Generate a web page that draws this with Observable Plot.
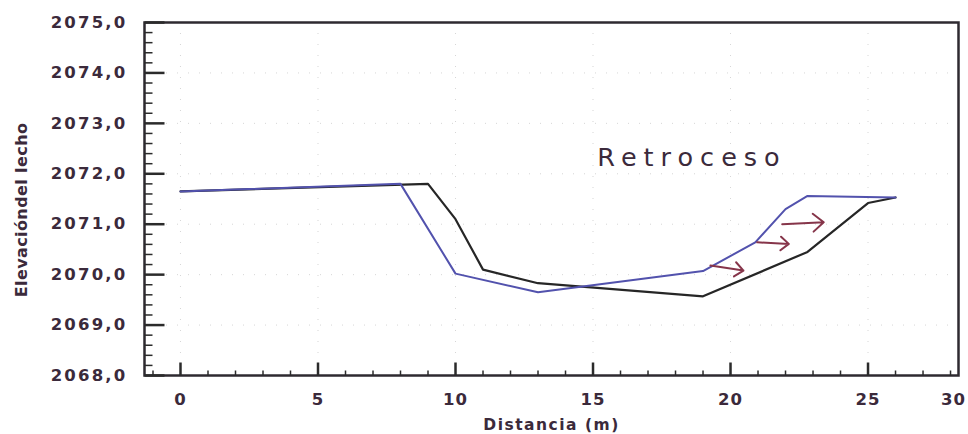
<!DOCTYPE html>
<html>
<head>
<meta charset="utf-8">
<script src="https://cdn.jsdelivr.net/npm/d3@7"></script>
<script src="https://cdn.jsdelivr.net/npm/@observablehq/plot@0.6"></script>
<style>
  body { margin: 0; background: #fff; }
</style>
</head>
<body>
<div id="chart"></div>
<script>
// Perfil inicial (azul) y perfil posterior (negro)
const blueDist  = [0, 8, 10, 13, 19, 20.9, 22, 22.8, 26];
const blueElev  = [2071.65, 2071.8, 2070.02, 2069.65, 2070.07, 2070.64, 2071.3, 2071.56, 2071.53];
const blackDist = [0, 9, 10, 11, 13, 19, 22.8, 25, 26];
const blackElev = [2071.65, 2071.8, 2071.1, 2070.1, 2069.83, 2069.57, 2070.45, 2071.42, 2071.53];

// Flechas de retroceso
const arrowX1 = [19.27, 20.97, 21.88];
const arrowY1 = [2070.18, 2070.64, 2071.0];
const arrowX2 = [20.47, 22.12, 23.39];
const arrowY2 = [2070.08, 2070.61, 2071.04];

const annotation = "Retroceso";
const annotationX = 18.6;
const annotationY = 2072.32;

const xTicks = [0, 5, 10, 15, 20, 25];
const xEdgeLabel = "30";
const yTicks = [2068, 2069, 2070, 2071, 2072, 2073, 2074, 2075];
const xTitle = "Distancia (m)";
const yTitle = "Elevacióndel lecho";

const W = 968, H = 434, mL = 144, mR = 10, mT = 22, mB = 59;
const plotW = W - mL - mR, plotH = H - mT - mB;
const xDomain = [-1.309, 28.29];
const yDomain = [2068, 2075];
const pxPerX = plotW / (xDomain[1] - xDomain[0]);
const pxPerY = plotH / (yDomain[1] - yDomain[0]);

const xMinor = d3.range(-1, 29).filter(d => d % 5 !== 0);
const yMinor = d3.range(1, 35).map(i => 2068 + i * 0.2).filter(d => Math.abs(d - Math.round(d)) > 1e-6);

const blue = blueDist.map((d, i) => ({x: d, y: blueElev[i]}));
const black = blackDist.map((d, i) => ({x: d, y: blackElev[i]}));
const arrows = arrowX1.map((d, i) => ({x1: d, y1: arrowY1[i], x2: arrowX2[i], y2: arrowY2[i]}));

// inward tick segments built from the tick arrays and the scale domains
const yTickSegs = [
  ...yMinor.map(v => ({x1: xDomain[0], x2: xDomain[0] + 8 / pxPerX, y1: v, y2: v, w: 1.5})),
  ...yTicks.map(v => ({x1: xDomain[0], x2: xDomain[0] + 20 / pxPerX, y1: v, y2: v, w: 2.5}))
];
const xTickSegs = [
  ...xMinor.map(v => ({x1: v, x2: v, y1: yDomain[0], y2: yDomain[0] + 5 / pxPerY, w: 1.5})),
  ...xTicks.map(v => ({x1: v, x2: v, y1: yDomain[0], y2: yDomain[0] + 13 / pxPerY, w: 2.5}))
];

const textColor = "#3b2a3b";
const axisColor = "#2b2b2b";
const font = "DejaVu Sans";

const chart = Plot.plot({
  width: W, height: H,
  marginLeft: mL, marginRight: mR, marginTop: mT, marginBottom: mB,
  style: {background: "#fff", fontFamily: font, color: textColor},
  x: {domain: xDomain, axis: null},
  y: {domain: yDomain, axis: null},
  marks: [
    Plot.gridX(xTicks, {stroke: "#999", strokeOpacity: 0.4, strokeDasharray: "1,10"}),
    Plot.gridY(yTicks, {stroke: "#999", strokeOpacity: 0.4, strokeDasharray: "1,10"}),
    Plot.line(black, {x: "x", y: "y", stroke: "#262626", strokeWidth: 2.2}),
    Plot.line(blue, {x: "x", y: "y", stroke: "#5252ad", strokeWidth: 2}),
    Plot.arrow(arrows, {x1: "x1", y1: "y1", x2: "x2", y2: "y2", stroke: "#86354a", strokeWidth: 2, headLength: 17, headAngle: 80}),
    Plot.text([annotation], {x: () => annotationX, y: () => annotationY, fontSize: 25.5, fill: textColor}),
    Plot.axisY(yTicks, {tickSize: 0, tickPadding: 17, tickFormat: d => d.toFixed(1).replace(".", ","), fontSize: 16.5, fontWeight: "bold", fill: textColor, label: null}),
    Plot.axisX(xTicks, {tickSize: 0, tickPadding: 18, fontSize: 16.5, fontWeight: "bold", fill: textColor, label: null}),
    Plot.text([xEdgeLabel], {frameAnchor: "bottom-right", textAnchor: "middle", lineAnchor: "middle", dx: -5, dy: 24, fontSize: 16.5, fontWeight: "bold", fill: textColor}),
    Plot.text([xTitle], {frameAnchor: "bottom", textAnchor: "middle", lineAnchor: "middle", dy: 50, fontSize: 15.5, fontWeight: "bold", fill: textColor}),
    Plot.text([yTitle], {frameAnchor: "left", textAnchor: "middle", lineAnchor: "middle", dx: -123, dy: 11, rotate: -90, fontSize: 16, fontWeight: "bold", fill: textColor}),
    Plot.frame({stroke: "#2e2a30", strokeWidth: 2.5}),
    Plot.link(yTickSegs, {x1: "x1", x2: "x2", y1: "y1", y2: "y2", strokeWidth: "w", stroke: axisColor}),
    Plot.link(xTickSegs, {x1: "x1", x2: "x2", y1: "y1", y2: "y2", strokeWidth: "w", stroke: axisColor})
  ]
});
document.getElementById("chart").appendChild(chart);

// letter spacing tweaks
const spacing = new Map([[annotation, "7px"], [xTitle, "1.5px"], [yTitle, "0.4px"], [xEdgeLabel, "1px"]]);
d3.select(chart).selectAll("text").each(function() {
  const t = this.textContent;
  if (spacing.has(t)) d3.select(this).style("letter-spacing", spacing.get(t));
  else if (/^\d{4},\d$/.test(t)) d3.select(this).style("letter-spacing", "2.2px");
  else if (/^\d+$/.test(t)) d3.select(this).style("letter-spacing", "1px");
});
</script>
</body>
</html>
